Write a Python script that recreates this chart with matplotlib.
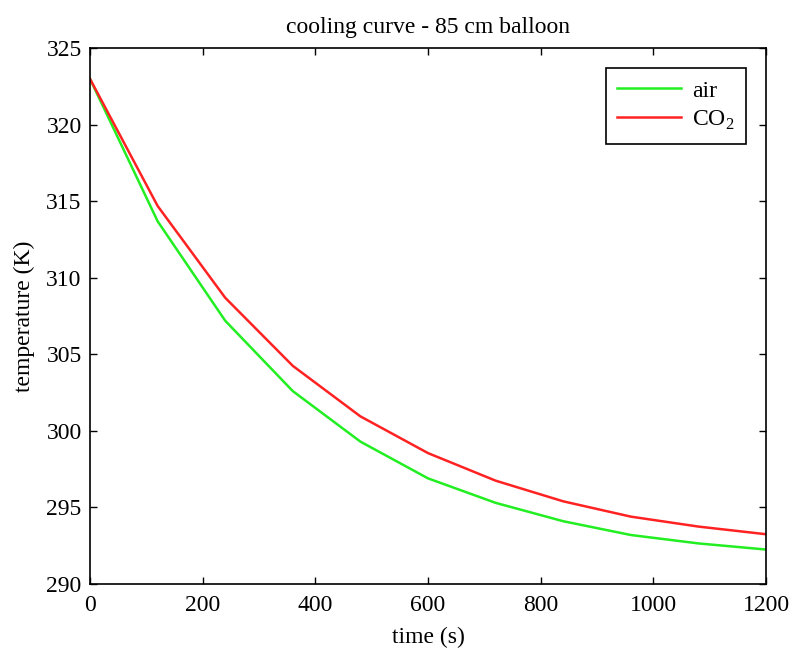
import matplotlib
matplotlib.use("Agg")
import matplotlib.pyplot as plt

time_s = [0, 120, 240, 360, 480, 600, 720, 840, 960, 1080, 1200]
air = [323.0, 313.7, 307.2, 302.6, 299.3, 296.9, 295.3, 294.1, 293.2, 292.65, 292.25]
co2 = [323.0, 314.7, 308.7, 304.25, 300.95, 298.55, 296.75, 295.4, 294.4, 293.75, 293.25]
xticks = [0, 200, 400, 600, 800, 1000, 1200]
yticks = [290, 295, 300, 305, 310, 315, 320, 325]

plt.rcParams['font.family'] = ['Liberation Serif', 'DejaVu Serif']
plt.rcParams['mathtext.fontset'] = 'custom'
plt.rcParams['mathtext.rm'] = 'Liberation Serif'

fig = plt.figure(figsize=(7.93, 6.48), dpi=100)
ax = fig.add_axes([0.1135, 0.0988, 0.8525, 0.8267])
ax.plot(time_s, air, color='#22ee22', lw=1.8, label='air')
ax.plot(time_s, co2, color='#ff2222', lw=1.8, label='CO$_2$')
ax.set_xlim(0, 1200)
ax.set_ylim(290, 325)
ax.set_xticks(xticks)
ax.set_yticks(yticks)
ax.tick_params(direction='in', top=True, right=True, length=5, width=1, labelsize=17)
ax.tick_params(axis='y', pad=6)
ax.tick_params(axis='x', pad=8)
for s in ax.spines.values():
    s.set_linewidth(1.2)
ax.set_xlabel('time (s)', fontsize=17, labelpad=8)
ax.set_ylabel('temperature (K)', fontsize=17, labelpad=8)
ax.set_title('cooling curve - 85 cm balloon', fontsize=17, pad=11)
leg = ax.legend(loc='upper right', fontsize=17, fancybox=False, edgecolor='black',
                framealpha=1, handlelength=2.7, handletextpad=0.45,
                borderaxespad=0.85, borderpad=0.5, labelspacing=0.3)
leg.get_frame().set_linewidth(1.2)
fig.savefig('out.png', dpi=100)
